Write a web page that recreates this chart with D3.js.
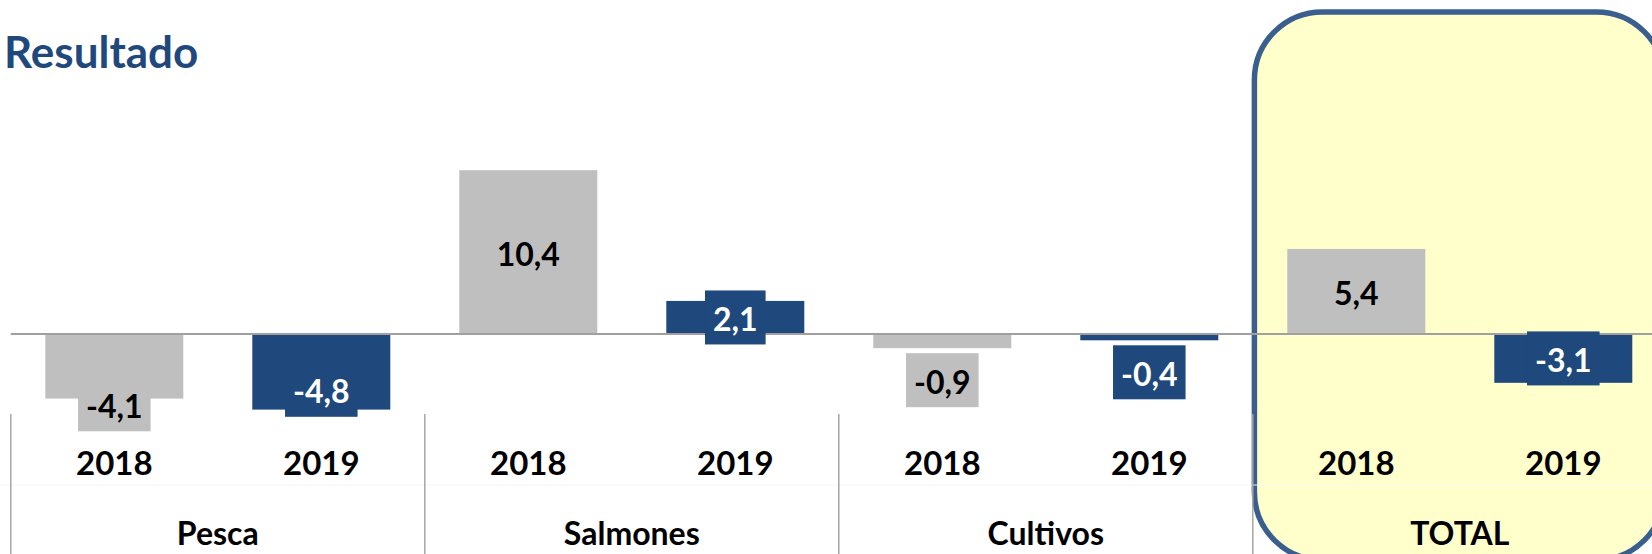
<!DOCTYPE html>
<html>
<head>
<meta charset="utf-8">
<script src="https://cdn.jsdelivr.net/npm/d3@7"></script>
<style>
  body { margin: 0; background: #fff; }
  svg { display: block; font-family: Lato, "Open Sans", sans-serif; font-weight: bold; }
</style>
</head>
<body>
<svg class="resultado"></svg>
<script>
const categories = ["Pesca", "Salmones", "Cultivos", "TOTAL"];
const years = ["2018", "2019"];
const values2018 = [-4.1, 10.4, -0.9, 5.4];
const values2019 = [-4.8, 2.1, -0.4, -3.1];
const highlighted = "TOTAL";

const width = 1652, height = 554;

const svg = d3.select("svg.resultado")
    .attr("width", width)
    .attr("height", height);

const barColor = {"2018": "#bfbfbf", "2019": "#1f497d"};
const textColor = {"2018": "#000000", "2019": "#ffffff"};

const rows = categories.flatMap((c, i) => [
    {cat: c, year: years[0], value: values2018[i]},
    {cat: c, year: years[1], value: values2019[i]}
]);

// groups, then the two years inside every group
const x = d3.scaleBand()
    .domain(categories)
    .range([10.8, 1666.8]);

const xYear = d3.scaleBand()
    .domain(years)
    .range([0, x.bandwidth()])
    .paddingInner(1 / 3)
    .paddingOuter(1 / 6);

const y = d3.scaleLinear()
    .domain([-6, 12])
    .range([428.5, 145]);

// yellow rounded box behind the TOTAL group
svg.append("rect")
    .attr("x", x(highlighted) + 1.6)
    .attr("y", 12)
    .attr("width", 410)
    .attr("height", 548)
    .attr("rx", 68)
    .attr("fill", "#ffffcc")
    .attr("stroke", "#3a5f8f")
    .attr("stroke-width", 5.5);

// title
svg.append("text")
    .attr("x", 4)
    .attr("y", 68)
    .attr("fill", "#1f497d")
    .style("font-size", "44px")
    .text("Resultado");

// faint line between year row and category row
svg.append("line")
    .attr("x1", 0).attr("x2", width)
    .attr("y1", 485).attr("y2", 485)
    .attr("stroke", "#f6f6f6")
    .attr("stroke-width", 1);

// bars
svg.append("g")
    .selectAll("rect")
    .data(rows)
    .join("rect")
    .attr("x", d => x(d.cat) + xYear(d.year))
    .attr("y", d => y(Math.max(0, d.value)))
    .attr("width", xYear.bandwidth())
    .attr("height", d => Math.abs(y(d.value) - y(0)))
    .attr("fill", d => barColor[d.year]);

// zero line
svg.append("line")
    .attr("x1", x.range()[0]).attr("x2", width)
    .attr("y1", y(0)).attr("y2", y(0))
    .attr("stroke", "#a0a0a0")
    .attr("stroke-width", 2);

// group separators
svg.append("g")
    .selectAll("line")
    .data(categories)
    .join("line")
    .attr("x1", d => x(d)).attr("x2", d => x(d))
    .attr("y1", 414).attr("y2", height)
    .attr("stroke", "#a6a6a6")
    .attr("stroke-width", 1.5);

// year axis inside each group
categories.forEach(c => {
    const ax = svg.append("g")
        .attr("transform", `translate(${x(c)},0)`)
        .call(d3.axisBottom(xYear).tickSize(0).tickPadding(0));
    ax.select(".domain").remove();
    ax.selectAll("text")
        .attr("y", 475)
        .attr("dy", null)
        .attr("fill", "#000")
        .style("font-family", "Lato, 'Open Sans', sans-serif")
        .style("font-weight", "bold")
        .style("font-size", "33px");
});

// category axis
const catAxis = svg.append("g")
    .call(d3.axisBottom(x).tickSize(0).tickPadding(0));
catAxis.select(".domain").remove();
catAxis.selectAll("text")
    .attr("y", 545)
    .attr("dy", null)
    .attr("fill", "#000")
    .style("font-family", "Lato, 'Open Sans', sans-serif")
    .style("font-weight", "bold")
    .style("font-size", "32px");

// data labels with a filled box, as in the Excel chart
const fmt = v => d3.format(".1f")(v).replace(".", ",").replace("−", "-");
const boxH = 54;
// the two Pesca labels were dragged down by hand in the original
const labelNudge = {"Pesca 2018": 38, "Pesca 2019": 18};

const labels = svg.append("g")
    .selectAll("g")
    .data(rows)
    .join("g");

labels.each(function(d) {
    const g = d3.select(this);
    const cx = x(d.cat) + xYear(d.year) + xYear.bandwidth() / 2;
    let cy;
    if (Math.abs(d.value) < 1) {
        cy = y(d.value) + 5 + boxH / 2;
    } else {
        cy = (y(0) + y(d.value)) / 2;
    }
    cy += labelNudge[d.cat + " " + d.year] || 0;

    const rect = g.append("rect");
    const t = g.append("text")
        .attr("x", cx)
        .attr("y", cy + 1)
        .attr("text-anchor", "middle")
        .attr("dominant-baseline", "central")
        .attr("fill", textColor[d.year])
        .style("font-size", "32px")
        .text(fmt(d.value));
    const w = t.node().getComputedTextLength() + 16;
    rect.attr("x", cx - w / 2)
        .attr("y", cy - boxH / 2)
        .attr("width", w)
        .attr("height", boxH)
        .attr("fill", barColor[d.year]);
});
</script>
</body>
</html>
